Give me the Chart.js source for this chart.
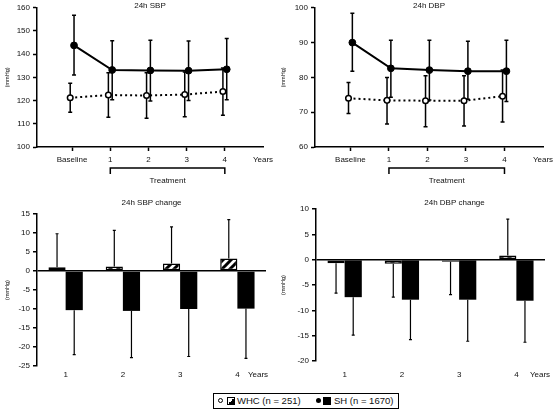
<!DOCTYPE html>
<html lang="en">
<head>
<meta charset="UTF-8">
<title>24h SBP / DBP, WHC vs SH</title>
<script src="https://cdn.jsdelivr.net/npm/chart.js@4"></script>
<style>
  body { margin: 0; background: #fff; font-family: Arial, "Liberation Sans", sans-serif; }
  .page { position: relative; width: 553px; height: 412px; }
  canvas { position: absolute; }
  .legend { position: absolute; left: 213px; top: 393px; width: 186px; height: 16px; box-sizing: border-box;
            border: 1px solid #000; font-size: 9.5px; color: #111; }
  .legend span { position: absolute; }
  .legend .txt { top: 0; line-height: 14px; white-space: nowrap; }
  .dot { width: 5px; height: 5px; border-radius: 50%; top: 4px; box-sizing: border-box; }
  .sq { width: 8px; height: 8px; top: 3px; box-sizing: border-box; border: 1px solid #000; }
</style>
</head>
<body>
<div class="page">
  <canvas id="sbp" width="276" height="195" style="left:0;top:0"></canvas>
  <canvas id="dbp" width="277" height="195" style="left:276px;top:0"></canvas>
  <canvas id="sbpChange" width="276" height="192" style="left:0;top:195px"></canvas>
  <canvas id="dbpChange" width="277" height="192" style="left:276px;top:195px"></canvas>
  <div class="legend">
    <span class="dot" style="left:4px;border:1.5px solid #000;background:#fff"></span>
    <span class="sq" style="left:13px;background:linear-gradient(to bottom right,#fff 50%,#000 50%)"></span>
    <span class="txt" style="left:23px">WHC (n = 251)</span>
    <span class="dot" style="left:102px;background:#000"></span>
    <span class="sq" style="left:109px;background:#000"></span>
    <span class="txt" style="left:120px">SH (n = 1670)</span>
  </div>
</div>
<script>
// ---- data ----
const timeLabels = ['Baseline', '1', '2', '3', '4'];

const sbpWhc     = [121.2, 122.4, 122.2, 122.6, 123.9];
const sbpWhcLow  = [115.0, 112.8, 112.4, 113.0, 113.7];
const sbpWhcHigh = [127.5, 132.0, 132.0, 132.3, 134.0];
const sbpSh      = [143.8, 133.2, 133.0, 132.9, 133.5];
const sbpShLow   = [131.0, 120.4, 119.8, 120.0, 120.4];
const sbpShHigh  = [156.8, 145.8, 146.0, 145.7, 146.8];

const dbpWhc     = [74.0, 73.4, 73.3, 73.3, 74.6];
const dbpWhcLow  = [69.6, 66.6, 65.8, 66.0, 67.2];
const dbpWhcHigh = [78.5, 80.0, 80.5, 80.5, 82.1];
const dbpSh      = [90.0, 82.6, 82.1, 81.8, 81.8];
const dbpShLow   = [81.8, 74.3, 73.5, 73.7, 73.1];
const dbpShHigh  = [98.4, 90.7, 90.7, 90.4, 90.7];

const yearLabels = ['1', '2', '3', '4'];

// change from baseline, and where the one-sided SD bar ends
const sbpChangeWhc    = [1.0, 1.2, 2.0, 3.3];
const sbpChangeWhcEnd = [9.8, 10.7, 11.6, 13.5];
const sbpChangeSh     = [-10.3, -10.5, -10.0, -9.9];
const sbpChangeShEnd  = [-22.0, -22.8, -22.5, -23.0];

const dbpChangeWhc    = [-0.7, -0.8, -0.4, 0.8];
const dbpChangeWhcEnd = [-6.6, -7.4, -6.9, 8.0];
const dbpChangeSh     = [-7.4, -7.9, -7.9, -8.1];
const dbpChangeShEnd  = [-14.9, -15.8, -16.1, -16.3];

const FONT = 'Arial, "Liberation Sans", sans-serif';
const INK = '#111';

// hatch for the WHC bars
function hatch() {
  const c = document.createElement('canvas');
  c.width = 8; c.height = 8;
  const g = c.getContext('2d');
  g.fillStyle = '#fff'; g.fillRect(0, 0, 8, 8);
  g.strokeStyle = '#000'; g.lineWidth = 3;
  g.beginPath();
  g.moveTo(-1, 9); g.lineTo(9, -1);
  g.moveTo(-1, 1); g.lineTo(1, -1);
  g.moveTo(7, 9); g.lineTo(9, 7);
  g.stroke();
  return g.createPattern(c, 'repeat');
}

function drawErrorBars(chart, o) {
  const ctx = chart.ctx, y = chart.scales.y;
  chart.data.datasets.forEach((ds, i) => {
    if (!ds.errFrom) return;
    ctx.save();
    ctx.strokeStyle = '#000';
    ctx.lineWidth = o.width;
    chart.getDatasetMeta(i).data.forEach((el, j) => {
      const x = el.x;
      const a = y.getPixelForValue(ds.errFrom[j]);
      const b = y.getPixelForValue(ds.errTo[j]);
      ctx.beginPath();
      ctx.moveTo(x, a); ctx.lineTo(x, b);
      ctx.moveTo(x - o.cap, b); ctx.lineTo(x + o.cap, b);
      if (o.bothCaps) { ctx.moveTo(x - o.cap, a); ctx.lineTo(x + o.cap, a); }
      ctx.stroke();
    });
    ctx.restore();
  });
}

const errorBars = {
  id: 'errorBars',
  beforeDatasetsDraw(chart, args, o) { if (o.under) drawErrorBars(chart, o); },
  afterDatasetsDraw(chart, args, o) { if (!o.under) drawErrorBars(chart, o); }
};

const panelNotes = {
  id: 'panelNotes',
  afterDraw(chart, args, o) {
    const { ctx, chartArea } = chart;
    ctx.save();
    ctx.fillStyle = INK;
    ctx.font = '8px ' + FONT;
    ctx.textAlign = 'center';
    ctx.textBaseline = 'middle';
    ctx.fillText(o.title, (chartArea.left + chartArea.right) / 2 + (o.titleDx || 0), o.titleY);
    if (o.yearsX) ctx.fillText('Years', o.yearsX, o.yearsY);
    if (o.bracket) {
      const x1 = chart.scales.x.getPixelForValue(1);
      const x4 = chart.scales.x.getPixelForValue(4);
      const yb = chartArea.bottom + 21;
      ctx.strokeStyle = '#000';
      ctx.lineWidth = 1.5;
      ctx.beginPath();
      ctx.moveTo(x1, yb + 6); ctx.lineTo(x1, yb); ctx.lineTo(x4, yb); ctx.lineTo(x4, yb + 6);
      ctx.stroke();
      ctx.fillText('Treatment', (x1 + x4) / 2, yb + 13);
    }
    ctx.restore();
  }
};

Chart.register(errorBars, panelNotes);

function yAxis(min, max, width) {
  return {
    min: min, max: max,
    ticks: { stepSize: min < 0 ? 5 : 10, color: INK, font: { size: 8, family: FONT }, padding: 3 },
    grid: { drawOnChartArea: false, tickLength: 4, tickColor: '#000', tickWidth: 1.5 },
    border: { display: true, color: '#000', width: 1.5 },
    title: { display: true, text: '(mmHg)', color: INK, font: { size: 5.5, family: FONT }, padding: { top: 4, bottom: 0 } },
    afterFit: a => { a.width = width; }
  };
}

function lineChart(id, whc, whcLow, whcHigh, sh, shLow, shHigh, yMin, yMax, yWidth, padRight, title) {
  const pts = (arr, shift) => arr.map((v, i) => ({ x: i + shift, y: v }));
  return new Chart(document.getElementById(id), {
    type: 'line',
    data: {
      datasets: [
        {
          label: 'WHC (n = 251)', data: pts(whc, -0.05),
          borderColor: '#000', borderWidth: 2, borderDash: [2, 3],
          pointRadius: 2.8, pointBorderWidth: 1.5, pointBackgroundColor: '#fff', pointBorderColor: '#000',
          errFrom: whcLow, errTo: whcHigh
        },
        {
          label: 'SH (n = 1670)', data: pts(sh, 0.05),
          borderColor: '#000', borderWidth: 2,
          pointRadius: 3.4, pointBorderWidth: 1, pointBackgroundColor: '#000', pointBorderColor: '#000',
          errFrom: shLow, errTo: shHigh
        }
      ]
    },
    options: {
      responsive: false, animation: false,
      layout: { padding: { left: 0, right: padRight, top: 6, bottom: 0 } },
      scales: {
        x: {
          type: 'linear', min: -0.92, max: 5,
          afterBuildTicks: a => { a.ticks = [0, 1, 2, 3, 4, 5].map(v => ({ value: v })); },
          ticks: {
            color: INK, font: { size: 8, family: FONT }, padding: 4, autoSkip: false, maxRotation: 0,
            callback: v => (v === 5 ? 'Years' : timeLabels[v])
          },
          grid: {
            drawOnChartArea: false, tickLength: 4, tickWidth: 1.5,
            tickColor: c => (c.tick && c.tick.value === 5 ? 'rgba(0,0,0,0)' : '#000')
          },
          border: { display: true, color: '#000', width: 1.5 },
          afterFit: a => { a.height = 48; a.paddingLeft = 0; a.paddingRight = 0; }
        },
        y: yAxis(yMin, yMax, yWidth)
      },
      plugins: {
        legend: { display: false }, tooltip: { enabled: false },
        errorBars: { under: true, width: 1.5, cap: 2, bothCaps: true },
        panelNotes: { title: title, titleY: 6, bracket: true }
      }
    }
  });
}

function barChart(id, whc, whcEnd, sh, shEnd, yMin, yMax, yWidth, padRight, padTop, xHeight, labelPad, title, titleDx, yearsX) {
  return new Chart(document.getElementById(id), {
    type: 'bar',
    data: {
      labels: yearLabels,
      datasets: [
        {
          label: 'WHC (n = 251)', data: whc, backgroundColor: hatch(),
          borderColor: '#000', borderWidth: 1.5, borderSkipped: false,
          errFrom: whc, errTo: whcEnd
        },
        {
          label: 'SH (n = 1670)', data: sh, backgroundColor: '#000',
          borderColor: '#000', borderWidth: 0,
          errFrom: sh, errTo: shEnd
        }
      ]
    },
    options: {
      responsive: false, animation: false,
      datasets: { bar: { categoryPercentage: 0.6, barPercentage: 1.0 } },
      layout: { padding: { left: 0, right: padRight, top: padTop, bottom: 0 } },
      scales: {
        x: {
          ticks: { color: INK, font: { size: 8, family: FONT }, padding: labelPad, maxRotation: 0 },
          grid: { display: false, drawTicks: false },
          border: { display: false },
          afterFit: a => { a.height = xHeight; a.paddingLeft = 0; a.paddingRight = 0; }
        },
        y: Object.assign(yAxis(yMin, yMax, yWidth), {
          grid: {
            drawOnChartArea: true, tickLength: 4, tickColor: '#000', tickWidth: 1.5, lineWidth: 1.5,
            color: c => (c.tick && c.tick.value === 0 ? '#000' : 'rgba(0,0,0,0)')
          }
        })
      },
      plugins: {
        legend: { display: false }, tooltip: { enabled: false },
        errorBars: { under: false, width: 1.2, cap: 1.5, bothCaps: false },
        panelNotes: { title: title, titleY: 7.5, titleDx: titleDx, yearsX: yearsX, yearsY: 180 }
      }
    }
  });
}

lineChart('sbp', sbpWhc, sbpWhcLow, sbpWhcHigh, sbpSh, sbpShLow, sbpShHigh, 100, 160, 37, 13, '24h SBP');
lineChart('dbp', dbpWhc, dbpWhcLow, dbpWhcHigh, dbpSh, dbpShLow, dbpShHigh, 60, 100, 39, 10, '24h DBP');
barChart('sbpChange', sbpChangeWhc, sbpChangeWhcEnd, sbpChangeSh, sbpChangeShEnd, -25, 15, 37, 10, 19, 21, 4, '24h SBP change', 0, 258);
barChart('dbpChange', dbpChangeWhc, dbpChangeWhcEnd, dbpChangeSh, dbpChangeShEnd, -20, 10, 40, 8, 14, 26, 9, '24h DBP change', 24, 264);
</script>
</body>
</html>
